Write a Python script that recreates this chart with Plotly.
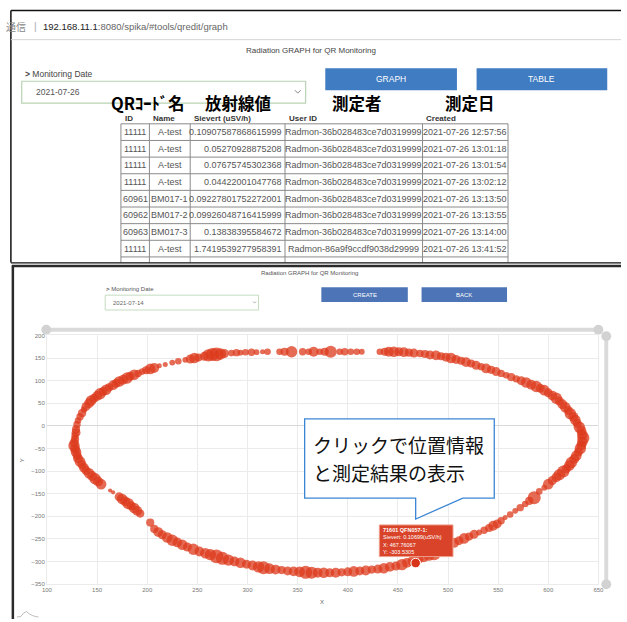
import plotly.graph_objects as go

W, H = 627, 622
BASE = "Liberation Sans, Arial, sans-serif"
CJK = "Noto Sans CJK JP, sans-serif"

# ---------------- data ----------------
TABLE_IDS = ["11111", "11111", "11111", "11111", "60961", "60962", "60963", "11111"]
TABLE_NAMES = ["A-test", "A-test", "A-test", "A-test", "BM017-1", "BM017-2", "BM017-3", "A-test"]
TABLE_SIEVERT = ["0.10907587868615999", "0.05270928875208", "0.07675745302368", "0.04422001047768",
                 "0.09227801752272001", "0.09926048716415999", "0.13838395584672", "1.7419539277958391"]
TABLE_USER = ["Radmon-36b028483ce7d0319999"] * 7 + ["Radmon-86a9f9ccdf9038d29999"]
TABLE_CREATED = ["2021-07-26 12:57:56", "2021-07-26 13:01:18", "2021-07-26 13:01:54", "2021-07-26 13:02:12",
                 "2021-07-26 13:13:50", "2021-07-26 13:13:55", "2021-07-26 13:14:00", "2021-07-26 13:41:52"]
TABLE_HEADERS = ["ID", "Name", "Sievert (uSV/h)", "User ID", "Created"]
JP_LABELS = ["QRｺｰﾄﾞ名", "放射線値", "測定者", "測定日"]
CALLOUT_LINES = ["クリックで位置情報", "と測定結果の表示"]

X_VAL = [129, 130, 131, 133, 135, 137, 139, 142, 144, 147, 150, 153, 156, 159, 162, 166, 169, 172, 176, 180,
         183, 187, 191, 195, 199, 203, 207, 212, 218, 225, 231, 238, 243, 247, 251, 257, 261, 265, 269, 273,
         277, 284, 289, 293, 298, 304, 309, 315, 320, 332, 337, 344, 355, 361, 366, 372, 377, 383, 392, 397,
         403, 409, 414, 432, 437, 441, 446, 451, 456, 461, 466, 472, 477, 482, 488, 493, 498, 503, 508, 513,
         518, 523, 528, 533, 538, 543, 548, 553, 558, 563, 568, 573, 578, 583, 588, 592, 596, 600, 604, 608,
         611, 614, 617, 620, 622, 625, 627, 629, 631, 633, 634, 635, 634, 633, 632, 630, 628, 626, 623, 621,
         618, 615, 611, 608, 604, 600, 596, 591, 586, 581, 577, 572, 567, 562, 557, 553, 549, 545, 541, 536,
         531, 526, 521, 516, 511, 506, 501, 496, 491, 486, 481, 476, 471, 465, 459, 454, 448, 442, 436, 430,
         424, 418, 412, 406, 400, 394, 388, 382, 376, 370, 364, 358, 352, 346, 340, 334, 328, 322, 316, 311,
         305, 299, 293, 287, 281, 275, 269, 263, 258, 252, 246, 240, 235, 230, 225, 220, 215, 211, 207, 203,
         193, 190, 187, 184, 181, 178, 175, 172, 166, 163, 154, 151, 148, 145, 142, 139, 137, 135, 133, 131,
         130, 129, 128, 127, 127, 128, 128, 129]
Y_VAL = [-8, 3, 12, 20, 28, 36, 43, 50, 56, 61, 66, 71, 76, 80, 85, 90, 94, 98, 102, 106,
         110, 113, 116, 120, 123, 126, 128, 133, 136, 140, 143, 146, 148, 150, 151, 154, 156, 158, 158, 159,
         160, 161, 162, 162, 163, 163, 163, 164, 164, 164, 164, 164, 164, 164, 164, 164, 164, 164, 164, 164,
         164, 164, 164, 164, 164, 164, 164, 164, 163, 162, 161, 160, 159, 157, 156, 154, 152, 150, 147, 144,
         141, 138, 134, 131, 127, 124, 120, 116, 112, 108, 104, 100, 96, 91, 87, 83, 79, 73, 67, 61,
         55, 48, 41, 34, 27, 20, 13, 5, -3, -11, -19, -27, -35, -43, -50, -58, -66, -73, -81, -88,
         -95, -101, -108, -114, -121, -129, -137, -145, -159, -166, -173, -181, -188, -196, -203, -210, -217, -221, -226, -231,
         -236, -240, -245, -249, -254, -259, -264, -270, -276, -282, -287, -291, -295, -299, -303, -307, -310, -312, -315, -317,
         -318, -320, -321, -322, -323, -324, -325, -325, -325, -325, -325, -324, -323, -322, -321, -319, -318, -316, -314, -312,
         -309, -306, -303, -300, -297, -293, -289, -285, -282, -278, -273, -268, -263, -258, -253, -247, -241, -235, -228, -214,
         -194, -188, -182, -177, -172, -167, -162, -157, -147, -143, -129, -123, -117, -111, -105, -99, -93, -86, -79, -72,
         -65, -58, -51, -44, -37, -30, -22, -15]
SIEVERT = [0.09, 0.08, 0.07, 0.08, 0.09, 0.07, 0.10, 0.11, 0.12, 0.10, 0.11, 0.13, 0.10, 0.12, 0.09, 0.11, 0.10, 0.12, 0.11, 0.13,
           0.10, 0.12, 0.08, 0.07, 0.09, 0.12, 0.11, 0.05, 0.05, 0.06, 0.07, 0.06, 0.10, 0.12, 0.09, 0.10, 0.14, 0.15, 0.16, 0.13,
           0.10, 0.07, 0.08, 0.06, 0.07, 0.08, 0.06, 0.05, 0.07, 0.07, 0.09, 0.13, 0.08, 0.07, 0.11, 0.07, 0.09, 0.14, 0.07, 0.08,
           0.07, 0.07, 0.06, 0.07, 0.09, 0.11, 0.12, 0.10, 0.11, 0.09, 0.10, 0.08, 0.09, 0.10, 0.11, 0.09, 0.10, 0.12, 0.10, 0.09,
           0.11, 0.09, 0.10, 0.08, 0.11, 0.09, 0.10, 0.08, 0.07, 0.09, 0.08, 0.10, 0.12, 0.11, 0.13, 0.10, 0.12, 0.10, 0.11, 0.13,
           0.10, 0.11, 0.12, 0.10, 0.13, 0.11, 0.12, 0.10, 0.13, 0.11, 0.12, 0.14, 0.12, 0.11, 0.13, 0.10, 0.12, 0.11, 0.13, 0.12,
           0.10, 0.14, 0.13, 0.11, 0.10, 0.12, 0.06, 0.07, 0.15, 0.09, 0.07, 0.08, 0.06, 0.07, 0.05, 0.08, 0.10, 0.11, 0.09, 0.08,
           0.06, 0.10, 0.09, 0.12, 0.10, 0.11, 0.09, 0.12, 0.14, 0.16, 0.12, 0.11, 0.10, 0.12, 0.11, 0.13, 0.10, 0.11, 0.12, 0.10,
           0.09, 0.11, 0.10, 0.12, 0.10, 0.09, 0.11, 0.10, 0.12, 0.11, 0.14, 0.15, 0.12, 0.11, 0.10, 0.09, 0.11, 0.12, 0.15, 0.13,
           0.11, 0.10, 0.12, 0.11, 0.13, 0.15, 0.16, 0.13, 0.12, 0.11, 0.13, 0.10, 0.12, 0.11, 0.13, 0.12, 0.10, 0.11, 0.09, 0.09,
           0.09, 0.11, 0.12, 0.10, 0.13, 0.11, 0.12, 0.10, 0.04, 0.04, 0.12, 0.11, 0.13, 0.11, 0.12, 0.10, 0.11, 0.10, 0.12, 0.11,
           0.10, 0.12, 0.11, 0.13, 0.10, 0.09, 0.08, 0.10]

SEL_ID, SEL_NAME = "71601", "QFN057-1"
SEL_X, SEL_Y, SEL_SV = 467.76067, -303.5305, 0.10699

X_TICKS = [100, 150, 200, 250, 300, 350, 400, 450, 500, 550, 600, 650]
Y_TICKS = [200, 150, 100, 50, 0, -50, -100, -150, -200, -250, -300, -350]


# ---------------- helpers ----------------
def PX(x):
    return x / W


def PY(y):
    return 1 - y / H


shapes, anns = [], []


def rect(x0, y0, x1, y1, fill="rgba(0,0,0,0)", line="rgba(0,0,0,0)", lw=0, layer="below"):
    shapes.append(dict(type="rect", xref="paper", yref="paper", x0=PX(x0), x1=PX(x1), y0=PY(y1), y1=PY(y0),
                       fillcolor=fill, line=dict(color=line, width=lw), layer=layer))


def hline(x0, x1, y, color, lw=1, layer="below"):
    shapes.append(dict(type="line", xref="paper", yref="paper", x0=PX(x0), x1=PX(x1), y0=PY(y), y1=PY(y),
                       line=dict(color=color, width=lw), layer=layer))


def vline(x, y0, y1, color, lw=1, layer="below"):
    shapes.append(dict(type="line", xref="paper", yref="paper", x0=PX(x), x1=PX(x), y0=PY(y0), y1=PY(y1),
                       line=dict(color=color, width=lw), layer=layer))


def circle(cx, cy, r, fill, layer="below"):
    shapes.append(dict(type="circle", xref="paper", yref="paper", x0=PX(cx - r), x1=PX(cx + r),
                       y0=PY(cy + r), y1=PY(cy - r), fillcolor=fill, line=dict(width=0), layer=layer))


def path(points, color, lw=1, fill=None, layer="below", close=False):
    d = "M " + " L ".join(f"{PX(x):.5f},{PY(y):.5f}" for x, y in points)
    if close:
        d += " Z"
    shapes.append(dict(type="path", xref="paper", yref="paper", path=d, line=dict(color=color, width=lw),
                       fillcolor=fill if fill else "rgba(0,0,0,0)", layer=layer))


def text(t, x, y, size, color, xanchor="left", yanchor="middle", family=BASE, angle=0):
    anns.append(dict(text=t, x=PX(x), y=PY(y), xref="paper", yref="paper", showarrow=False,
                     xanchor=xanchor, yanchor=yanchor, textangle=angle, align="left",
                     font=dict(size=size, color=color, family=family), borderpad=0))


# ---------------- top screenshot (table page) ----------------
hline(6, 627, 7.5, "#111", 1.5)
vline(6, 7.5, 262, "#111", 1.5)
hline(6, 627, 37, "#d6d6d6", 1)
text("通信", 0, 24, 10, "#888", family=CJK)
text("|", 28, 24, 10, "#aaa")
text("<span style='color:#222'>192.168.11.1</span><span style='color:#666'>:8080/spika/#tools/qredit/graph</span>",
     38, 24, 9.5, "#444")
text("Radiation GRAPH for QR Monitoring", 311, 48, 8, "#444", xanchor="center")
text("<b>&gt;</b> Monitoring Date", 19, 72, 8.5, "#444")
rect(17, 79, 306, 101, fill="white", line="#b9d3b4", lw=1.2)
text("2021-07-26", 31, 90, 8.5, "#555")
path([(295, 88), (298, 91), (301, 88)], "#888", 1)
rect(326, 66, 460, 88, fill="#3f7cc2")
text("GRAPH", 393, 77, 8.5, "white", xanchor="center")
rect(480, 66, 613, 88, fill="#3f7cc2")
text("TABLE", 546, 77, 8.5, "white", xanchor="center")

for lab, xc in zip(JP_LABELS, [145, 237, 358, 473]):
    text(f"<b>{lab}</b>", xc, 101, 16.5, "#000", xanchor="center", family=CJK)

COL_EDGES = [118, 147, 188.5, 285, 425, 512]
ROW_TOP, ROW_H = 122, 16.8
n_rows = len(TABLE_IDS)
for i, h in enumerate(TABLE_HEADERS):
    text(f"<b>{h}</b>", COL_EDGES[i] + 3, 117, 8, "#333")
for r in range(n_rows + 1):
    hline(COL_EDGES[0], COL_EDGES[-1], ROW_TOP + r * ROW_H, "#8a8a8a", 1)
for xe in COL_EDGES:
    vline(xe, ROW_TOP, 262, "#8a8a8a", 1)
cols = [TABLE_IDS, TABLE_NAMES, TABLE_SIEVERT, TABLE_USER, TABLE_CREATED]
aligns = ["center", "center", "right", "center", "center"]
for c, (vals, al) in enumerate(zip(cols, aligns)):
    x0, x1 = COL_EDGES[c], COL_EDGES[c + 1]
    for r, v in enumerate(vals):
        yc = ROW_TOP + ROW_H * (r + 0.5)
        if al == "center":
            text(v, (x0 + x1) / 2, yc, 9, "#555", xanchor="center")
        else:
            text(v, x1 - 2, yc, 9, "#555", xanchor="right")
hline(6, 627, 262.5, "#111", 1.2)

# ---------------- bottom screenshot (graph page) ----------------
hline(7, 627, 265.5, "#2a2a2a", 2.5)
vline(8, 265, 622, "#2a2a2a", 2.5)
text("Radiation GRAPH for QR Monitoring", 310, 273, 6, "#555", xanchor="center")
text("<b>&gt;</b> Monitoring Date", 102, 289, 6, "#555")
rect(102, 295, 258, 310, fill="white", line="#c5dcc0", lw=1)
text("2021-07-14", 109, 302.5, 6, "#666")
path([(252.5, 301.5), (254, 303), (255.5, 301.5)], "#999", 0.8)
rect(322, 287, 410, 302, fill="#4d74b6")
text("CREATE", 366, 294.5, 6, "white", xanchor="center")
rect(424, 287, 511, 302, fill="#4d74b6")
text("BACK", 467, 294.5, 6, "white", xanchor="center")

# zoom sliders
rect(42, 328, 604, 332, fill="#dadada")
circle(42, 330, 5, "#d2d2d2")
circle(604, 330, 5, "#d2d2d2")
rect(610, 336, 614, 587, fill="#dadada")
circle(612, 336.5, 5, "#d2d2d2")
circle(612, 587, 5, "#d2d2d2")

# axis titles
text("Y", 17, 462, 6, "#666", xanchor="center", angle=-90)
text("X", 323, 605, 6, "#666", xanchor="center")

# tiny logo bottom-left
path([(12, 620), (16, 619.5), (19, 616), (22, 614.5), (25, 617), (28, 618.5), (31, 619.5), (34, 620)], "#aaa", 0.8)

# callout
path([(305, 420), (498, 420), (498, 500), (466, 500), (418, 521), (418, 500), (305, 500)],
     "#3b86d4", 1.3, fill="white", layer="above", close=True)
text(CALLOUT_LINES[0], 312, 446, 19, "#111", family=CJK)
text(CALLOUT_LINES[1], 312, 474, 19, "#111", family=CJK)

# tooltip
rect(381, 527, 456, 559, fill="#d8432a", line="#eea08e", lw=1, layer="above")
text(f"<b>{SEL_ID} {SEL_NAME}:</b>", 384, 532, 5.5, "white")
text(f"Sievert: {SEL_SV}(uSV/h)", 384, 539.5, 5.5, "white")
text(f"X: {SEL_X}", 384, 547, 5.5, "white")
text(f"Y: {SEL_Y}", 384, 554.5, 5.5, "white")

# ---------------- scatter ----------------
fig = go.Figure()
fig.add_trace(go.Scatter(
    x=X_VAL, y=Y_VAL, mode="markers",
    marker=dict(size=[1 + 80 * v for v in SIEVERT], color="#dc3a1c", opacity=0.75, line=dict(width=0)),
    hoverinfo="skip"))
fig.add_trace(go.Scatter(
    x=[SEL_X], y=[SEL_Y], mode="markers",
    marker=dict(size=1 + 80 * SEL_SV, color="#d8341a", line=dict(width=1, color="white")),
    hoverinfo="skip"))

axis_common = dict(showgrid=True, gridcolor="#ebebeb", gridwidth=1, ticks="",
                   tickfont=dict(size=6, color="#777", family=BASE),
                   showline=True, linecolor="#ebebeb", mirror=True, fixedrange=True)
fig.update_layout(
    width=W, height=H, margin=dict(l=0, r=0, t=0, b=0),
    paper_bgcolor="white", plot_bgcolor="white", showlegend=False,
    xaxis=dict(domain=[PX(42.7), PX(604)], range=[100, 650], tickvals=X_TICKS, zeroline=False, **axis_common),
    yaxis=dict(domain=[PY(586.7), PY(335.7)], range=[-350, 200], tickvals=Y_TICKS,
               zeroline=True, zerolinecolor="#d8d8d8", zerolinewidth=1, **axis_common),
    shapes=shapes, annotations=anns,
)
fig.write_html("out.html", config={"displayModeBar": False},
               post_script="document.body.style.margin='0';document.body.style.overflow='hidden';")
